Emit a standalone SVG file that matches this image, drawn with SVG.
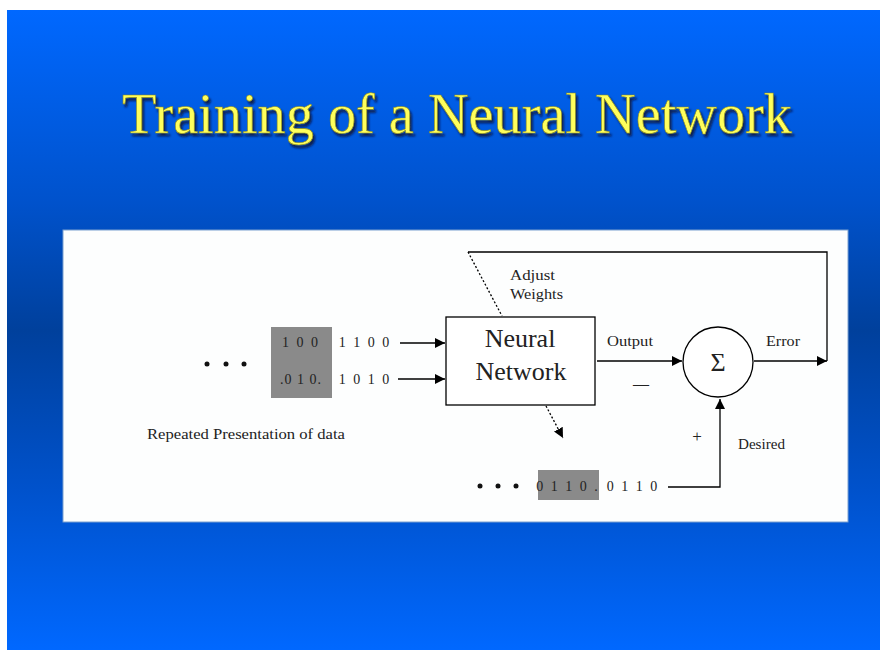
<svg xmlns="http://www.w3.org/2000/svg" width="885" height="650" viewBox="0 0 885 650">
<defs>
<linearGradient id="bg" x1="0" y1="0" x2="0" y2="1">
<stop offset="0" stop-color="#0068ff"/>
<stop offset="0.3" stop-color="#0052cc"/>
<stop offset="0.5" stop-color="#00409c"/>
<stop offset="0.75" stop-color="#0052cc"/>
<stop offset="1" stop-color="#0068ff"/>
</linearGradient>
<filter id="sh" x="-5%" y="-20%" width="110%" height="150%">
<feDropShadow dx="2" dy="3" stdDeviation="1" flood-color="#101030" flood-opacity="0.8"/>
</filter>
<marker id="ah" viewBox="0 0 10 10" refX="10" refY="5" markerWidth="10" markerHeight="10" markerUnits="userSpaceOnUse" orient="auto">
<path d="M0,0 L10,5 L0,10 z" fill="#000"/>
</marker>
<style>
.t{font-family:"Liberation Serif","Times New Roman",serif;fill:#222}
.ln{stroke:#000;stroke-width:1.3;fill:none}
.dot{stroke:#000;stroke-width:1.3;fill:none;stroke-dasharray:2 2}
.gray{fill:#8a8a8a}
.pt{fill:#111}
</style>
</defs>
<rect width="885" height="650" fill="#fff"/>
<rect x="7" y="10" width="873" height="640" fill="url(#bg)"/>
<text x="457" y="133" text-anchor="middle" font-family="Liberation Serif,serif" font-size="56" fill="#ffff5c" stroke="#8a8a20" stroke-width="0.6" textLength="670" lengthAdjust="spacingAndGlyphs" filter="url(#sh)">Training of a Neural Network</text>
<rect x="63" y="230" width="785" height="292" fill="#fdfefe" stroke="#7aa0d0" stroke-width="1"/>

<g id="connectors">
<line class="ln" x1="400" y1="343" x2="445" y2="343" marker-end="url(#ah)"/>
<line class="ln" x1="398" y1="379" x2="445" y2="379" marker-end="url(#ah)"/>
<line class="ln" x1="597" y1="361" x2="682" y2="361" marker-end="url(#ah)"/>
<line class="ln" x1="754" y1="361" x2="827" y2="361" marker-end="url(#ah)"/>
<polyline class="ln" points="827,361 827,252 468,252"/>
<line class="dot" x1="468" y1="252" x2="502" y2="316"/>
<line class="dot" x1="546" y1="406" x2="563" y2="438" marker-end="url(#ah)"/>
<polyline class="ln" points="668,487 720,487 720,399" marker-end="url(#ah)"/>
</g>

<g id="input-data">
<circle class="pt" cx="207" cy="364" r="2.5"/>
<circle class="pt" cx="226" cy="364" r="2.5"/>
<circle class="pt" cx="244" cy="364" r="2.5"/>
<rect class="gray" x="271" y="327" width="61" height="71"/>
<text class="t" x="301" y="347" text-anchor="middle" font-size="14" letter-spacing="2">1 0 0</text>
<text class="t" x="301" y="384" text-anchor="middle" font-size="14" letter-spacing="1">.0 1 0.</text>
<text class="t" x="365" y="347" text-anchor="middle" font-size="14" letter-spacing="2">1 1 0 0</text>
<text class="t" x="365" y="384" text-anchor="middle" font-size="14" letter-spacing="2">1 0 1 0</text>
<text class="t" x="147" y="439" font-size="14" textLength="198" lengthAdjust="spacingAndGlyphs">Repeated Presentation of data</text>
</g>

<g id="neural-network">
<rect x="446" y="317" width="149" height="88" fill="#fff" stroke="#000" stroke-width="1.3"/>
<text class="t" x="520" y="347" text-anchor="middle" font-size="26">Neural</text>
<text class="t" x="521" y="380" text-anchor="middle" font-size="26">Network</text>
</g>

<g id="labels">
<text class="t" x="510" y="280" font-size="15" textLength="45" lengthAdjust="spacingAndGlyphs">Adjust</text>
<text class="t" x="510" y="299" font-size="15" textLength="53" lengthAdjust="spacingAndGlyphs">Weights</text>
<text class="t" x="607" y="346" font-size="15" textLength="46" lengthAdjust="spacingAndGlyphs">Output</text>
<text class="t" x="766" y="346" font-size="15" textLength="34" lengthAdjust="spacingAndGlyphs">Error</text>
<text class="t" x="641" y="389" text-anchor="middle" font-size="16">—</text>
<text class="t" x="697" y="442" text-anchor="middle" font-size="17" fill="#555">+</text>
<text class="t" x="738" y="449" font-size="15" textLength="47" lengthAdjust="spacingAndGlyphs">Desired</text>
</g>

<g id="sum">
<circle cx="718" cy="362" r="35" fill="#fff" stroke="#000" stroke-width="1.3"/>
<text class="t" x="718" y="371" text-anchor="middle" font-size="26">Σ</text>
</g>

<g id="desired-data">
<circle class="pt" cx="480" cy="486" r="2.5"/>
<circle class="pt" cx="498" cy="486" r="2.5"/>
<circle class="pt" cx="516" cy="486" r="2.5"/>
<rect class="gray" x="538" y="470" width="61" height="30"/>
<text class="t" x="568" y="491" text-anchor="middle" font-size="14" letter-spacing="2">0 1 1 0 .</text>
<text class="t" x="633" y="491" text-anchor="middle" font-size="14" letter-spacing="2">0 1 1 0</text>
</g>
</svg>
